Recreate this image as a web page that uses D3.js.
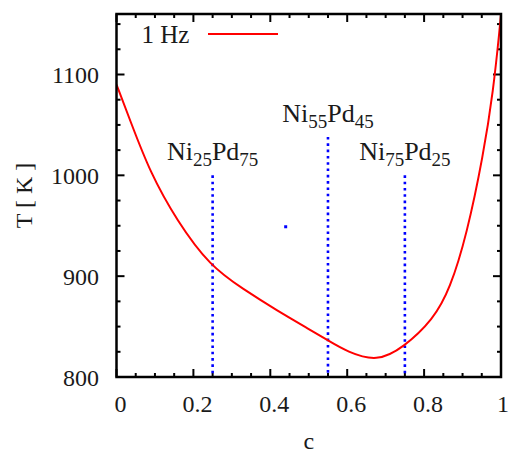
<!DOCTYPE html>
<html>
<head>
<meta charset="utf-8">
<script src="https://cdn.jsdelivr.net/npm/d3@7"></script>
<style>
	body { margin: 0; background: #fff; }
	text { font-family: "Liberation Serif", "DejaVu Serif", serif; fill: #1a1a1a; }
</style>
</head>
<body>
<div id="vis"></div>
<script>
// declare constants
const FRAME_WIDTH = 509;
const FRAME_HEIGHT = 455;
const MARGINS = {left: 116.5, right: 8, top: 14, bottom: 78};

const VIS_WIDTH = FRAME_WIDTH - MARGINS.left - MARGINS.right;
const VIS_HEIGHT = FRAME_HEIGHT - MARGINS.top - MARGINS.bottom;

// data
const CONC = [0, 0.035, 0.087, 0.157, 0.243, 0.33, 0.417, 0.503, 0.551, 0.6, 0.677, 0.746, 0.824, 0.867, 0.911, 0.954, 0.98, 0.997, 1.0];
const TEMP = [1090, 1055, 1003, 955, 910, 887, 866, 847, 836, 825, 815, 829, 857, 887, 941, 1020, 1084, 1147, 1160];

const MARKER_C = [0.25, 0.55, 0.75];
const MARKER_TOP = [1000, 1038, 1000];
const MARKER_NI = ["25", "55", "75"];
const MARKER_PD = ["75", "45", "25"];

const STRAY_POINT = [0.44, 949];

const X_TICKS = [0, 0.2, 0.4, 0.6, 0.8, 1];
const Y_TICKS = [800, 900, 1000, 1100];

// frame
const FRAME = d3.select("#vis")
	.append("svg")
		.attr("width", FRAME_WIDTH)
		.attr("height", FRAME_HEIGHT);

const X_SCALE = d3.scaleLinear()
					.domain([0, 1])
					.range([MARGINS.left, MARGINS.left + VIS_WIDTH]);
const Y_SCALE = d3.scaleLinear()
					.domain([800, 1160])
					.range([MARGINS.top + VIS_HEIGHT, MARGINS.top]);

const PLOT = FRAME.append("g");

// clip for the curve
FRAME.append("clipPath")
		.attr("id", "clip")
	.append("rect")
		.attr("x", MARGINS.left)
		.attr("y", MARGINS.top)
		.attr("width", VIS_WIDTH)
		.attr("height", VIS_HEIGHT);

// minor + major ticks on all four sides
const X_MINOR = d3.range(0, 1.0001, 0.05);
const Y_MINOR = d3.range(800, 1160.1, 25);

function isMajorX(v) { return Math.abs(v * 5 - Math.round(v * 5)) < 1e-6; }
function isMajorY(v) { return v % 100 === 0; }

const TICKS = PLOT.append("g")
	.attr("stroke", "#000")
	.attr("stroke-width", 2);

X_MINOR.forEach((v) => {
	let len = isMajorX(v) ? 8 : 4;
	TICKS.append("line")
		.attr("x1", X_SCALE(v)).attr("x2", X_SCALE(v))
		.attr("y1", Y_SCALE(800)).attr("y2", Y_SCALE(800) - len);
	TICKS.append("line")
		.attr("x1", X_SCALE(v)).attr("x2", X_SCALE(v))
		.attr("y1", Y_SCALE(1160)).attr("y2", Y_SCALE(1160) + len);
});

Y_MINOR.forEach((v) => {
	let len = isMajorY(v) ? 8 : 4;
	TICKS.append("line")
		.attr("x1", X_SCALE(0)).attr("x2", X_SCALE(0) + len)
		.attr("y1", Y_SCALE(v)).attr("y2", Y_SCALE(v));
	TICKS.append("line")
		.attr("x1", X_SCALE(1)).attr("x2", X_SCALE(1) - len)
		.attr("y1", Y_SCALE(v)).attr("y2", Y_SCALE(v));
});

// tick labels
PLOT.selectAll(".xlab")
	.data(X_TICKS)
	.enter()
	.append("text")
		.attr("class", "xlab")
		.attr("x", (d) => {return X_SCALE(d) + (d === 1 ? 2 : 4)})
		.attr("y", Y_SCALE(800) + 35)
		.attr("text-anchor", "middle")
		.attr("font-size", "24px")
		.text((d) => {return d});

PLOT.selectAll(".ylab")
	.data(Y_TICKS)
	.enter()
	.append("text")
		.attr("class", "ylab")
		.attr("x", 99)
		.attr("y", (d) => {return Y_SCALE(d) + 8.5})
		.attr("text-anchor", "end")
		.attr("font-size", "24px")
		.text((d) => {return d});

// axis titles
PLOT.append("text")
	.attr("x", X_SCALE(0.5))
	.attr("y", 449)
	.attr("text-anchor", "middle")
	.attr("font-size", "24px")
	.text("c");

PLOT.append("text")
	.attr("transform", "translate(32," + Y_SCALE(980) + ") rotate(-90)")
	.attr("text-anchor", "middle")
	.attr("font-size", "24px")
	.text("T [ K ]");

// dotted marker lines
PLOT.selectAll(".marker")
	.data(MARKER_C)
	.enter()
	.append("line")
		.attr("class", "marker")
		.attr("x1", (d) => {return X_SCALE(d)})
		.attr("x2", (d) => {return X_SCALE(d)})
		.attr("y1", (d, i) => {return Y_SCALE(MARKER_TOP[i])})
		.attr("y2", Y_SCALE(800))
		.attr("stroke", "#0000ff")
		.attr("stroke-width", 2.6)
		.attr("stroke-dasharray", "2.6,3.7");

// marker labels with subscripts
MARKER_C.forEach((c, i) => {
	let t = PLOT.append("text")
		.attr("x", X_SCALE(c))
		.attr("y", Y_SCALE(MARKER_TOP[i]) - 15)
		.attr("text-anchor", "middle")
		.attr("font-size", "26px");
	t.append("tspan").text("Ni");
	t.append("tspan").attr("font-size", "19px").attr("dy", 6).text(MARKER_NI[i]);
	t.append("tspan").attr("dy", -6).text("Pd");
	t.append("tspan").attr("font-size", "19px").attr("dy", 6).text(MARKER_PD[i]);
});

// stray point
PLOT.append("rect")
	.attr("x", X_SCALE(STRAY_POINT[0]) - 1.5)
	.attr("y", Y_SCALE(STRAY_POINT[1]) - 1.5)
	.attr("width", 3)
	.attr("height", 3)
	.attr("fill", "#0000ff");

// curve
const LINE = d3.line()
	.x((d) => {return X_SCALE(d[0])})
	.y((d) => {return Y_SCALE(d[1])})
	.curve(d3.curveBasis);

PLOT.append("path")
	.datum(CONC.map((c, i) => [c, TEMP[i]]))
	.attr("clip-path", "url(#clip)")
	.attr("d", LINE)
	.attr("fill", "none")
	.attr("stroke", "#ff0000")
	.attr("stroke-width", 2);

// legend
PLOT.append("text")
	.attr("x", 141.5)
	.attr("y", 43)
	.attr("font-size", "25px")
	.text("1 Hz");

PLOT.append("line")
	.attr("x1", 208).attr("x2", 278)
	.attr("y1", 34).attr("y2", 34)
	.attr("stroke", "#ff0000")
	.attr("stroke-width", 2);

// frame border
PLOT.append("rect")
	.attr("x", MARGINS.left)
	.attr("y", MARGINS.top)
	.attr("width", VIS_WIDTH)
	.attr("height", VIS_HEIGHT)
	.attr("fill", "none")
	.attr("stroke", "#000")
	.attr("stroke-width", 2.5);
</script>
</body>
</html>
